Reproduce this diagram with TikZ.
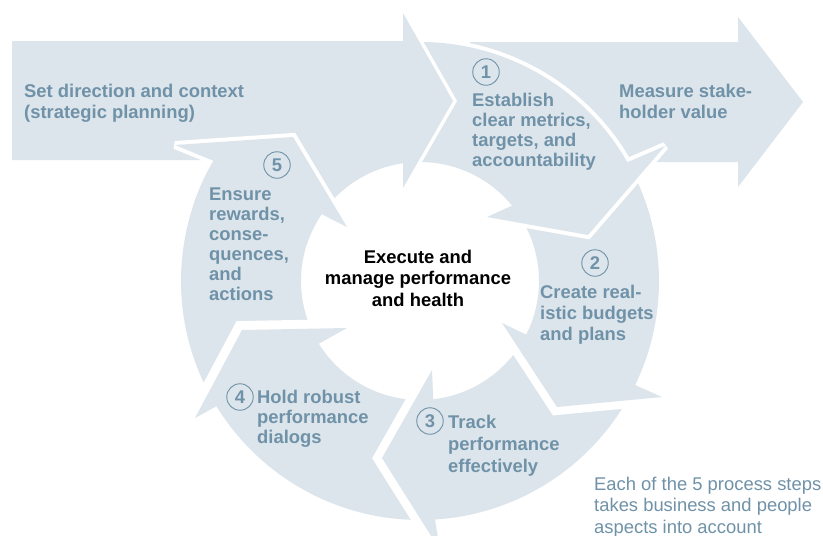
\documentclass[tikz,border=0pt]{standalone}
\usepackage{fontspec}
\setmainfont{Liberation Sans}
\definecolor{ringfill}{RGB}{220,229,235}
\definecolor{lbl}{RGB}{112,146,168}
\newcommand{\lstack}[1]{\begin{tabular}[t]{@{}l@{}}#1\end{tabular}}
\newcommand{\cstack}[1]{\begin{tabular}[t]{@{}c@{}}#1\end{tabular}}
\tikzset{
  shapefill/.style={fill=ringfill},
  gapline/.style={draw=white, line width=#1, line join=miter, miter limit=2},
  lbltext/.style={anchor=base west, inner sep=0pt, text=lbl, font=\bfseries\fontsize{18.4}{#1}\selectfont},
  numcirc/.style={circle, draw=lbl, line width=0.9pt, text=lbl, minimum size=26.5pt, inner sep=0pt, font=\bfseries\fontsize{18.4}{20}\selectfont},
}
\begin{document}
\begin{tikzpicture}[x=1pt,y=-1pt]
\fill[white] (0,0) rectangle (823,536);
\useasboundingbox (0,0) rectangle (823,536);
\coordinate (C) at (420,281);

% right arrow (Measure stakeholder value)
\fill[shapefill] (470,42) -- (738,42) -- (738,17) -- (803,102) -- (738,187) -- (738,162) -- (470,162) -- cycle;

% arrow 5 (body)
\fill[shapefill] ([shift={(C)}]-211.6:239) arc[start angle=-211.6, end angle=-149.8, radius=239]
  -- (175,145) -- (293,137) -- (347,227) -- ([shift={(C)}]-145.8:119)
  arc[start angle=-145.8, end angle=-211.8, radius=119] -- cycle;

% arrow 4
\draw[gapline=18] ([shift={(C)}]148.4:239) -- (195,418) -- (242,330) -- (347,328) -- ([shift={(C)}]148.2:119);
\fill[shapefill] ([shift={(C)}]86.4:239) arc[start angle=86.4, end angle=148.4, radius=239]
  -- (195,418) -- (242,330) -- (347,328) -- ([shift={(C)}]148.2:119)
  arc[start angle=148.2, end angle=83.6, radius=119] -- cycle;

% arrow 3
\draw[gapline=17] ([shift={(C)}]86.4:239) -- (440,550) -- (382,458) -- (432,370) -- ([shift={(C)}]83.6:119);
\fill[shapefill] ([shift={(C)}]25.8:239) arc[start angle=25.8, end angle=86.4, radius=239]
  -- (440,550) -- (382,458) -- (432,370) -- ([shift={(C)}]83.6:119)
  arc[start angle=83.6, end angle=26.8, radius=119] -- cycle;

% arrow 2
\draw[gapline=16] ([shift={(C)}]25.8:239) -- (662,397) -- (557,407) -- (502,323) -- ([shift={(C)}]26.8:119);
\fill[shapefill] ([shift={(C)}]-29.8:239) arc[start angle=-29.8, end angle=25.8, radius=239]
  -- (662,397) -- (557,407) -- (502,323) -- ([shift={(C)}]26.8:119)
  arc[start angle=26.8, end angle=-39.3, radius=119] -- cycle;

% arrow 1
\draw[gapline=8] ([shift={(C)}]-125:239) arc[start angle=-125, end angle=-29.8, radius=239]
  -- (665,146) -- (588,235) -- (487,217) -- ([shift={(C)}]-39.3:119);
\fill[shapefill] ([shift={(C)}]-149.8:239) arc[start angle=-149.8, end angle=-29.8, radius=239]
  -- (665,146) -- (588,235) -- (487,217) -- ([shift={(C)}]-39.3:119)
  arc[start angle=-39.3, end angle=-145.8, radius=119] -- cycle;

% big left arrow (Set direction)
\draw[gapline=7] (403,13) -- (453,101) -- (403,188);
\fill[shapefill] (12,41) -- (403,41) -- (403,13) -- (453,101) -- (403,188) -- (403,160) -- (12,160) -- cycle;

% arrow 5 head drawn again on top
\draw[gapline=8] ([shift={(C)}]-149.8:239) -- (175,145) -- (293,137) -- (347,227) -- ([shift={(C)}]-145.8:119);
\fill[shapefill] ([shift={(C)}]-149.8:239) -- (175,145) -- (293,137) -- (347,227) -- ([shift={(C)}]-145.8:119)
  arc[start angle=-145.8, end angle=-162, radius=119] -- ([shift={(C)}]-162:239)
  arc[start angle=-162, end angle=-149.8, radius=239] -- cycle;

% texts
\node[lbltext=21.7] (tset) at (24,97) {\lstack{Set direction and context\\(strategic planning)}};
\node[lbltext=21.3] (tmeas) at (619,97) {\lstack{Measure stake-\\holder value}};

\node[numcirc] (c1) at (486,72) {1};
\node[lbltext=20] (t1) at (472,106) {\lstack{Establish\\clear metrics,\\targets, and\\accountability}};

\node[numcirc] (c2) at (595,263) {2};
\node[lbltext=21] (t2) at (540,298) {\lstack{Create real-\\istic budgets\\and plans}};

\node[numcirc] (c3) at (430,421) {3};
\node[lbltext=22] (t3) at (448,428) {\lstack{Track\\performance\\effectively}};

\node[numcirc] (c4) at (240,397) {4};
\node[lbltext=20] (t4) at (257,403) {\lstack{Hold robust\\performance\\dialogs}};

\node[numcirc] (c5) at (277,165) {5};
\node[lbltext=20] (t5) at (209,200) {\lstack{Ensure\\rewards,\\conse-\\quences,\\and\\actions}};

\node[anchor=base, inner sep=0pt, text=black, font=\bfseries\fontsize{18.4}{21.7}\selectfont] (center) at (418,263)
  {\cstack{Execute and\\manage performance\\and health}};

\node[anchor=base west, inner sep=0pt, text=lbl, font=\fontsize{18.4}{21.7}\selectfont] (note) at (594,490)
  {\lstack{Each of the 5 process steps\\takes business and people\\aspects into account}};
\end{tikzpicture}
\end{document}
